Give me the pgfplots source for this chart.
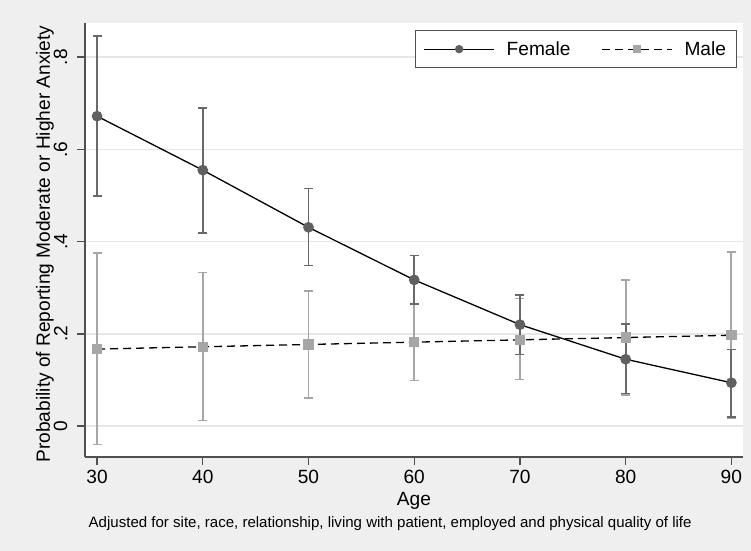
\documentclass[border=0pt]{standalone}
\usepackage{pgfplots}
\pgfplotsset{compat=1.18}
\usepackage{fontspec}
\setmainfont{Liberation Sans}
\definecolor{bgc}{RGB}{239,239,239}
\definecolor{gridc}{RGB}{230,230,230}
\definecolor{fem}{RGB}{96,96,96}
\definecolor{femeb}{RGB}{105,105,105}
\definecolor{mal}{RGB}{166,166,166}
\definecolor{axc}{RGB}{80,80,80}
\begin{document}
\begin{tikzpicture}
\fill[bgc] (0,0) rectangle (751bp,551bp);
\begin{axis}[
  at={(85bp,94bp)}, anchor=south west, scale only axis,
  width=658bp, height=434bp,
  xmin=28.86, xmax=91.1, ymin=-0.067, ymax=0.874,
  axis background/.style={fill=white},
  axis lines*=left,
  axis line style={-, draw=axc, line width=1.4bp},
  tick align=outside, major tick length=7.5bp,
  tick style={draw=axc, line width=1.4bp},
  xtick={30,40,50,60,70,80,90},
  ytick={0,0.2,0.4,0.6,0.8},
  yticklabels={0,.2,.4,.6,.8},
  ymajorgrids, grid style={draw=gridc, line width=1.4bp},
  /pgf/number format/assume math mode=true,
  tick label style={font=\fontsize{19.2}{22}\selectfont, inner sep=0pt},
  xticklabel style={anchor=north, yshift=-5bp},
  yticklabel style={xshift=-10bp, rotate=90, anchor=south},
  xlabel={Age},
  xlabel style={font=\fontsize{19.2}{22}\selectfont, at={(axis description cs:0.5,0)}, anchor=base, yshift=-48bp, inner sep=0pt},
  ylabel={Probability of Reporting Moderate or Higher Anxiety},
  ylabel style={font=\fontsize{19.2}{22}\selectfont, at={(axis description cs:-0.0532,0.491)}, anchor=base, inner sep=0pt},
  legend columns=2,
  legend style={at={(axis description cs:0.9909,0.9839)}, anchor=north east,
    draw=axc, line width=1bp, fill=white, inner ysep=9bp, inner xsep=8.5bp,
    font=\fontsize{19.2}{22}\selectfont,
    /tikz/every odd column/.append style={column sep=10bp},
    /tikz/every even column/.append style={column sep=29bp}},
  legend cell align=left,
  legend image code/.code={\draw[mark repeat=2, mark phase=2, #1, mark size=3.6bp, line width=1.1bp] plot coordinates {(0bp,0bp) (35bp,0bp) (70bp,0bp)};},
]
% confidence intervals
\addplot[forget plot, only marks, mark=none, color=mal,
  error bars/.cd, y dir=both, y explicit,
  error bar style={line width=1.8bp, solid},
  error mark options={rotate=90, mark size=4.5bp, line width=1.5bp, draw=mal}]
  coordinates {
  (30,0.167) += (0,0.208) -= (0,0.207)
  (40,0.172) += (0,0.161) -= (0,0.160)
  (50,0.177) += (0,0.116) -= (0,0.116)
  (60,0.182) += (0,0.083) -= (0,0.083)
  (70,0.187) += (0,0.090) -= (0,0.086)
  (80,0.192) += (0,0.125) -= (0,0.125)
  (90,0.197) += (0,0.181) -= (0,0.180)
  };
\addplot[forget plot, only marks, mark=none, color=femeb,
  error bars/.cd, y dir=both, y explicit,
  error bar style={line width=1.8bp, solid},
  error mark options={rotate=90, mark size=4.5bp, line width=1.5bp, draw=femeb}]
  coordinates {
  (30,0.672) += (0,0.174) -= (0,0.173)
  (40,0.555) += (0,0.135) -= (0,0.136)
  (50,0.431) += (0,0.084) -= (0,0.083)
  (60,0.317) += (0,0.053) -= (0,0.052)
  (70,0.220) += (0,0.064) -= (0,0.065)
  (80,0.145) += (0,0.076) -= (0,0.074)
  (90,0.094) += (0,0.072) -= (0,0.074)
  };
% point estimates
\addplot[color=black, line width=1.3bp, mark=*, mark size=4.7bp,
  mark options={solid, fill=fem, draw=fem}]
  coordinates {(30,0.672) (40,0.555) (50,0.431) (60,0.317) (70,0.220) (80,0.145) (90,0.094)};
\addlegendentry{Female}
\addplot[color=black, line width=1.3bp, dash pattern=on 8bp off 5bp, mark=square*, mark size=4.5bp,
  mark options={solid, fill=mal, draw=mal}]
  coordinates {(30,0.167) (40,0.172) (50,0.177) (60,0.182) (70,0.187) (80,0.192) (90,0.197)};
\addlegendentry{Male\hspace{3bp}}
\end{axis}
\node[anchor=base west, font=\fontsize{15.1}{18}\selectfont, inner sep=0pt] at (88.5bp,23.6bp)
  {Adjusted for site, race, relationship, living with patient, employed and physical quality of life};
\pgfresetboundingbox
\path (0,0) rectangle (751bp,551bp);
\end{tikzpicture}
\end{document}
